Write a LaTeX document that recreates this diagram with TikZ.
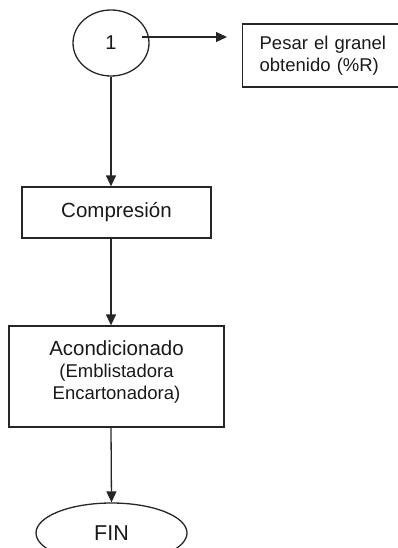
\documentclass[tikz,border=0pt]{standalone}
\usepackage{fontspec}
\setmainfont{Liberation Sans}
\usetikzlibrary{shapes.geometric,arrows.meta}
\begin{document}
\begin{tikzpicture}[x=1pt,y=-1pt,
  every node/.style={text=black!90},
  boxnode/.style={draw=black!85, line width=1.3pt, rectangle, inner sep=0pt, align=center},
  ovalnode/.style={draw=black!85, line width=1.3pt, ellipse, inner sep=0pt},
  arr/.style={draw=black!85, line width=1.3pt, -{Triangle[length=11pt,width=10pt]}},
  bigtxt/.style={font=\fontsize{20.5}{22.5}\selectfont},
  smalltxt/.style={font=\fontsize{18.5}{22}\selectfont}]
\useasboundingbox (0,0) rectangle (397,548);
% nodes
\node[ovalnode, minimum width=76pt, minimum height=66pt, font=\fontsize{20}{22}\selectfont] (c1) at (111,43) {1};
\node[boxnode, anchor=west, align=left, text width=136pt, inner xsep=17pt, minimum height=63pt, smalltxt] (pesar) at (242,55.5) {Pesar el granel\\obtenido (\%R)};
\node[boxnode, minimum width=189pt, minimum height=51pt, bigtxt] (comp) at (116.5,212.5) {Compresión};
\node[boxnode, minimum width=215pt, minimum height=101pt] (acond) at (116.5,376.5) {};
\node[align=center, inner sep=0pt, smalltxt, yshift=5pt] (acondt) at (acond.center) {{\fontsize{20.5}{22.5}\selectfont Acondicionado}\\(Emblistadora\\Encartonadora)};
\node[ovalnode, minimum width=151pt, minimum height=60pt, font=\fontsize{21.5}{24}\selectfont] (fin) at (111.5,533) {FIN};
% connectors
\coordinate (s1) at ([xshift=-8pt,yshift=6pt]c1.east);
\draw[arr, shorten >=15pt] (s1) -- (s1 -| pesar.west);
\draw[arr] (c1.south) -- (c1.south |- comp.north);
\draw[arr] (comp.south -| c1.south) -- (acond.north -| c1.south);
\draw[arr] (acond.south -| c1.south) -- (fin.north);
\end{tikzpicture}
\end{document}
